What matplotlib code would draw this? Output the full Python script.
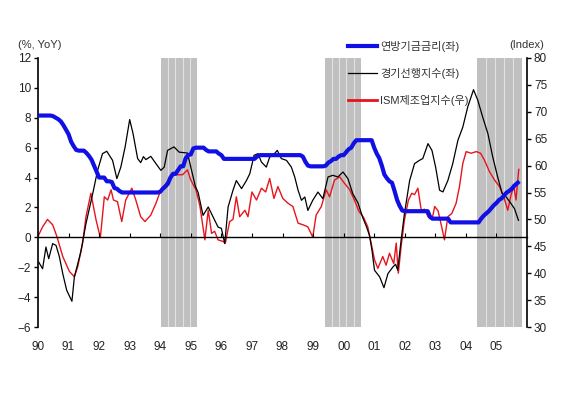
import matplotlib
matplotlib.use("Agg")
import matplotlib.pyplot as plt
from matplotlib.lines import Line2D
import numpy as np

plt.rcParams['font.family'] = ['Liberation Sans', 'Noto Sans CJK KR', 'DejaVu Sans']

# 연방기금금리 (monthly, from Jan 1990)
fed_rate = [
    8.15, 8.15, 8.15, 8.15, 8.15, 8.15, 8.1, 8.0, 7.9, 7.75, 7.5, 7.2,
    6.9, 6.4, 6.1, 5.85, 5.8, 5.8, 5.8, 5.65, 5.45, 5.2, 4.8, 4.4,
    4.0, 4.0, 4.0, 3.75, 3.75, 3.7, 3.3, 3.25, 3.1, 3.0, 3.0, 3.0,
    3.0, 3.0, 3.0, 3.0, 3.0, 3.0, 3.0, 3.0, 3.0, 3.0, 3.0, 3.0,
    3.05, 3.25, 3.4, 3.6, 4.0, 4.25, 4.25, 4.5, 4.75, 4.75, 5.3, 5.5,
    5.55, 5.95, 6.0, 6.0, 6.0, 6.0, 5.85, 5.75, 5.75, 5.75, 5.75, 5.6,
    5.5, 5.25, 5.25, 5.25, 5.25, 5.25, 5.25, 5.25, 5.25, 5.25, 5.25, 5.25,
    5.25, 5.25, 5.4, 5.5, 5.5, 5.5, 5.5, 5.5, 5.5, 5.5, 5.5, 5.5,
    5.5, 5.5, 5.5, 5.5, 5.5, 5.5, 5.5, 5.5, 5.4, 5.05, 4.8, 4.75,
    4.75, 4.75, 4.75, 4.75, 4.75, 4.8, 5.0, 5.1, 5.25, 5.25, 5.4, 5.5,
    5.5, 5.7, 5.9, 6.0, 6.3, 6.5, 6.5, 6.5, 6.5, 6.5, 6.5, 6.5,
    6.0, 5.6, 5.3, 4.8, 4.2, 3.95, 3.75, 3.65, 3.1, 2.5, 2.1, 1.8,
    1.75, 1.75, 1.75, 1.75, 1.75, 1.75, 1.75, 1.75, 1.75, 1.75, 1.35, 1.25,
    1.25, 1.25, 1.25, 1.25, 1.25, 1.25, 1.0, 1.0, 1.0, 1.0, 1.0, 1.0,
    1.0, 1.0, 1.0, 1.0, 1.0, 1.0, 1.25, 1.45, 1.6, 1.75, 1.95, 2.15,
    2.3, 2.5, 2.6, 2.8, 3.0, 3.1, 3.25, 3.45, 3.6, 3.75,
]
fed_x = 1990 + np.arange(len(fed_rate)) / 12

# 경기선행지수 YoY
lei_x = [1990.02, 1990.15, 1990.26, 1990.35, 1990.48, 1990.59, 1990.70, 1990.81, 1990.94, 1991.11,
         1991.19, 1991.40, 1991.57, 1991.79, 1991.95, 1992.11, 1992.25, 1992.44, 1992.58, 1992.71,
         1992.85, 1993.00, 1993.11, 1993.26, 1993.36, 1993.45, 1993.53, 1993.69, 1993.86, 1994.02,
         1994.13, 1994.24, 1994.45, 1994.62, 1994.89, 1995.05, 1995.15, 1995.24, 1995.40, 1995.57,
         1995.73, 1995.89, 1996.00, 1996.11, 1996.22, 1996.38, 1996.49, 1996.66, 1996.82, 1996.93,
         1997.07, 1997.20, 1997.31, 1997.47, 1997.58, 1997.69, 1997.83, 1997.96, 1998.13, 1998.29,
         1998.40, 1998.51, 1998.62, 1998.73, 1998.83, 1998.99, 1999.16, 1999.32, 1999.49, 1999.65,
         1999.81, 1999.98, 2000.14, 2000.30, 2000.47, 2000.63, 2000.75, 2000.85, 2000.93, 2001.01,
         2001.18, 2001.32, 2001.45, 2001.61, 2001.70, 2001.77, 2001.88, 2001.99, 2002.16, 2002.32,
         2002.48, 2002.59, 2002.76, 2002.89, 2003.01, 2003.14, 2003.25, 2003.41, 2003.57, 2003.74,
         2003.90, 2004.06, 2004.25, 2004.39, 2004.55, 2004.72, 2004.88, 2005.04, 2005.19, 2005.32,
         2005.48, 2005.59, 2005.72]
lei_yoy = [-1.65, -2.1, -0.65, -1.43, -0.42, -0.54, -1.3, -2.43, -3.55, -4.28,
           -2.65, -0.98, 0.92, 2.92, 4.48, 5.6, 5.76, 5.15, 3.93, 4.7,
           6.04, 7.88, 6.94, 5.27, 5.0, 5.4, 5.2, 5.42, 4.93, 4.48,
           4.7, 5.82, 6.05, 5.7, 5.64, 4.26, 3.4, 3.0, 1.47, 2.03,
           1.36, 0.69, 0.6, -0.42, 2.03, 3.15, 3.8, 3.26, 3.8, 4.26,
           5.49, 5.6, 5.04, 4.7, 5.37, 5.49, 5.82, 5.27, 5.15, 4.7,
           4.04, 3.15, 2.48, 2.7, 1.8, 2.48, 3.03, 2.59, 4.04, 4.15,
           4.04, 4.37, 3.93, 2.92, 2.3, 1.3, 0.7, 0.1, -0.9, -2.2,
           -2.65, -3.37, -2.43, -1.99, -1.8, -2.2, -0.2, 1.59, 3.8, 4.93,
           5.15, 5.27, 6.27, 5.82, 4.7, 3.15, 3.04, 3.8, 4.93, 6.5,
           7.38, 8.72, 9.88, 9.17, 8.05, 6.94, 5.37, 4.04, 2.92, 2.7,
           2.25, 1.92, 1.14]

# ISM 제조업지수
ism_x = [1990.02, 1990.15, 1990.31, 1990.48, 1990.62, 1990.81, 1991.03, 1991.19, 1991.30, 1991.46,
         1991.57, 1991.73, 1991.90, 1992.04, 1992.17, 1992.28, 1992.39, 1992.47, 1992.60, 1992.74,
         1992.87, 1993.07, 1993.20, 1993.36, 1993.50, 1993.69, 1993.86, 1994.02, 1994.19, 1994.41,
         1994.57, 1994.73, 1994.89, 1995.00, 1995.17, 1995.30, 1995.46, 1995.57, 1995.68, 1995.78,
         1995.89, 1996.06, 1996.13, 1996.27, 1996.38, 1996.49, 1996.60, 1996.77, 1996.87, 1997.00,
         1997.15, 1997.31, 1997.45, 1997.58, 1997.72, 1997.85, 1998.01, 1998.18, 1998.34, 1998.51,
         1998.67, 1998.83, 1998.99, 1999.10, 1999.27, 1999.43, 1999.54, 1999.70, 1999.87, 2000.03,
         2000.20, 2000.36, 2000.50, 2000.65, 2000.79, 2000.90, 2001.01, 2001.12, 2001.28, 2001.39,
         2001.50, 2001.64, 2001.72, 2001.79, 2001.88, 2001.99, 2002.12, 2002.23, 2002.32, 2002.43,
         2002.54, 2002.65, 2002.76, 2002.89, 2002.98, 2003.09, 2003.22, 2003.30, 2003.41, 2003.54,
         2003.68, 2003.79, 2003.90, 2004.01, 2004.17, 2004.34, 2004.48, 2004.61, 2004.77, 2004.94,
         2005.10, 2005.24, 2005.37, 2005.48, 2005.57, 2005.64, 2005.73]
ism_index = [47.1, 48.6, 50.0, 49.0, 46.8, 43.1, 40.3, 39.35, 41.2, 45.6,
             50.5, 54.85, 49.9, 46.6, 54.2, 53.6, 55.5, 53.6, 53.3, 49.6,
             53.6, 55.8, 53.6, 50.5, 49.6, 50.8, 53.0, 55.5, 56.7, 58.3,
             58.3, 58.3, 59.2, 57.3, 55.5, 52.4, 46.2, 51.7, 47.4, 47.8,
             46.2, 45.9, 45.6, 49.6, 50.0, 54.2, 50.5, 51.7, 50.5, 55.1,
             53.6, 55.8, 55.1, 57.6, 53.9, 56.1, 53.9, 53.0, 52.4, 49.3,
             49.0, 48.6, 46.7, 50.8, 52.4, 55.5, 54.2, 57.3, 57.9, 56.7,
             55.5, 53.5, 51.5, 50.4, 48.6, 45.6, 42.5, 40.9, 43.1, 41.5,
             43.7, 41.8, 45.6, 40.0, 44.9, 49.9, 53.6, 54.85, 54.6, 55.8,
             51.7, 51.9, 50.5, 49.9, 52.4, 51.6, 48.3, 46.2, 50.5, 51.1,
             53.0, 56.1, 60.4, 62.6, 62.3, 62.6, 62.3, 61.0, 58.9, 57.3,
             56.1, 54.2, 51.7, 54.6, 56.1, 53.6, 59.3]

# 금리인상 구간 (shaded)
hike_start = [1994.03, 1999.38, 2004.38]
hike_end = [1995.20, 2000.56, 2005.85]

year_ticks = list(range(1990, 2006))
year_labels = [str(y)[2:] for y in year_ticks]

fig = plt.figure(figsize=(5.8, 3.96), dpi=100)
ax = fig.add_axes([38 / 580, 69 / 396, 489 / 580, 269 / 396])
ax2 = ax.twinx()
ax.set_zorder(ax2.get_zorder() + 1)
ax.patch.set_visible(False)

# ax2 (right scale, bottom layer): shading + ISM
for s, e in zip(hike_start, hike_end):
    ax2.axvspan(s, e, color="#c0c0c0", lw=0, zorder=0)
    for xl in np.linspace(s, e, 6)[1:-1]:
        ax2.axvline(xl, color="#e2e2e2", lw=0.8, zorder=0.5)
ax2.plot(ism_x, ism_index, color="#e8141c", lw=1.0, zorder=2)
ax2.set_ylim(30, 80)
ax2.set_yticks(range(30, 81, 5))
ax2.set_xlim(1990, 2006)

# ax (left scale, top layer): Fed rate + LEI
ax.plot(lei_x, lei_yoy, color="black", lw=0.9, zorder=3)
ax.plot(fed_x, fed_rate, color="#1010e6", lw=3.0, zorder=4, solid_capstyle="butt")
ax.set_ylim(-6, 12)
ax.set_yticks(range(-6, 13, 2))
ax.set_xlim(1990, 2006)

for a in (ax, ax2):
    a.spines["top"].set_visible(False)
ax2.spines["bottom"].set_visible(False)
ax2.spines["left"].set_visible(False)
ax.spines["right"].set_visible(False)
ax2.spines["right"].set_linewidth(1.2)
ax.spines["left"].set_linewidth(1.2)
ax.spines["bottom"].set_position(("data", 0))
ax.spines["bottom"].set_linewidth(1.0)

ax.set_xticks(year_ticks)
ax.tick_params(axis="x", direction="in", length=3, width=0.8, labelbottom=False)
ax.tick_params(axis="y", length=3, width=1.0, labelsize=8.5, pad=2, labelcolor="#222222")
ax2.tick_params(axis="y", length=3, width=1.0, labelsize=8.5, pad=2, labelcolor="#222222")

sec = ax.secondary_xaxis(0.0)
sec.set_xticks(year_ticks)
sec.set_xticklabels(year_labels)
sec.spines["bottom"].set_visible(False)
sec.tick_params(length=0, pad=10, labelsize=8.5, labelcolor="#222222")

ax.text(-0.04, 1.03, "(%, YoY)", transform=ax.transAxes, fontsize=8, color="#333333",
        ha="left", va="bottom")
ax.text(1.0, 1.03, "(Index)", transform=ax.transAxes, fontsize=8, color="#333333",
        ha="center", va="bottom")

handles = [
    Line2D([], [], color="#1010e6", lw=3.0),
    Line2D([], [], color="black", lw=0.9),
    Line2D([], [], color="#e8141c", lw=2.0),
]
labels = ["연방기금금리(좌)", "경기선행지수(좌)", "ISM제조업지수(우)"]
leg = ax.legend(handles, labels, loc="upper left", bbox_to_anchor=(0.634, 1.065),
                frameon=False, fontsize=8, handlelength=2.6, handletextpad=0.3,
                labelspacing=1.45, borderpad=0, borderaxespad=0)
for t in leg.get_texts():
    t.set_color("#333333")

plt.savefig("out.png", dpi=100)
plt.close(fig)
